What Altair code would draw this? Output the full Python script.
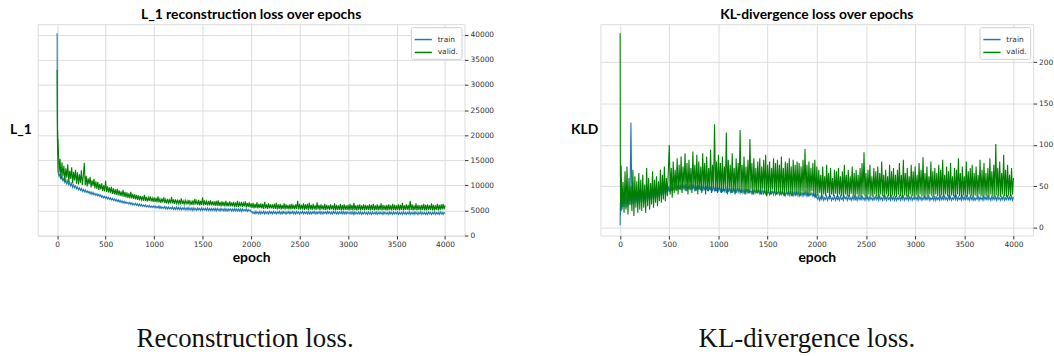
import altair as alt
import pandas as pd

# ---------------- data ----------------
EARLY_EPOCHS = [0, 2, 4, 6, 8]
STEP_EPOCHS = list(range(10, 4001, 10))
EPOCHS = EARLY_EPOCHS + STEP_EPOCHS

SERIES = ["train", "valid."]
COLORS = ["#1f77b4", "#008000"]

L1_TRAIN = [
    40300, 28000, 17500, 14500, 13200,
    12600, 11800, 12300, 11200, 11900, 10800, 11400, 10600, 11100, 10300, 10900, 10100, 10600, 9900, 10400, 9600, 10100, 9500, 9900, 9300,
    9700, 9100, 9500, 9000, 9400, 8800, 9200, 8700, 9100, 8600, 8900, 8500, 8800, 8300, 8700, 8200, 8600, 8100, 8400, 8000,
    8300, 7900, 8200, 7800, 8100, 7600, 7900, 7500, 7800, 7400, 7700, 7300, 7600, 7200, 7500, 7100, 7400, 7000, 7300, 6900,
    7200, 6800, 7100, 6700, 7000, 6600, 6900, 6500, 6800, 6400, 6700, 6400, 6600, 6300, 6600, 6200, 6500, 6100, 6400, 6100,
    6400, 6000, 6300, 5900, 6300, 5900, 6200, 5800, 6100, 5800, 6100, 5700, 6000, 5700, 6000, 5600, 5900, 5600, 5900, 5600,
    5900, 5500, 5800, 5500, 5900, 5400, 5800, 5400, 5700, 5400, 5800, 5300, 5700, 5300, 5700, 5300, 5600, 5300, 5700, 5200,
    5600, 5200, 5700, 5200, 5600, 5200, 5600, 5100, 5500, 5200, 5600, 5100, 5500, 5100, 5600, 5100, 5500, 5100, 5500, 5000,
    5500, 5100, 5400, 5000, 5500, 5100, 5400, 5000, 5500, 5000, 5400, 5100, 5400, 5000, 5500, 5000, 5400, 5000, 5400, 5000,
    5400, 5000, 5400, 4900, 5400, 5000, 5300, 4900, 5400, 5000, 5300, 4900, 5400, 4900, 5300, 4900, 5300, 5000, 5300, 4900,
    5300, 4900, 5400, 4900, 5300, 4900, 5300, 4900, 5300, 4800, 5300, 4900, 5200, 4900, 5300, 4800, 5200, 4900, 5100, 4700,
    4800, 4400, 4700, 4300, 4800, 4400, 4700, 4300, 4800, 4300, 4700, 4400, 4800, 4300, 4700, 4400, 4700, 4300, 4800, 4400,
    4700, 4300, 4800, 4400, 4700, 4300, 4700, 4400, 4800, 4300, 4700, 4300, 4800, 4400, 4700, 4300, 4700, 4400, 4800, 4300,
    4700, 4400, 4800, 4300, 4700, 4300, 4800, 4400, 4700, 4300, 4700, 4400, 4800, 4300, 4700, 4400, 4700, 4300, 4800, 4300,
    4700, 4300, 4700, 4400, 4800, 4300, 4700, 4300, 4700, 4400, 4800, 4300, 4700, 4300, 4700, 4400, 4700, 4300, 4800, 4400,
    4700, 4300, 4700, 4300, 4800, 4400, 4700, 4300, 4700, 4300, 4700, 4400, 4700, 4300, 4800, 4300, 4700, 4300, 4700, 4400,
    4600, 4300, 4700, 4300, 4700, 4200, 4700, 4300, 4600, 4300, 4700, 4300, 4700, 4200, 4600, 4300, 4700, 4300, 4600, 4200,
    4700, 4300, 4600, 4200, 4700, 4300, 4600, 4300, 4700, 4200, 4600, 4300, 4700, 4300, 4600, 4200, 4700, 4300, 4600, 4300,
    4600, 4200, 4700, 4300, 4600, 4200, 4700, 4300, 4600, 4300, 4700, 4200, 4600, 4300, 4600, 4200, 4700, 4300, 4600, 4200,
    4600, 4300, 4700, 4200, 4600, 4300, 4600, 4200, 4700, 4300, 4600, 4200, 4600, 4300, 4700, 4200, 4600, 4300, 4600, 4200,
    4600, 4200, 4700, 4300, 4600, 4200, 4600, 4300, 4700, 4200, 4600, 4300, 4600, 4200, 4700, 4300, 4600, 4200, 4600, 4400,
]

L1_VALID = [
    33000, 23000, 18500, 21000, 16000,
    19200, 12500, 15300, 11200, 14600, 11800, 13900, 10700, 13400, 11500, 14200, 10600, 12900, 11300, 13600, 10400, 12700, 11000, 13100, 10300,
    12600, 10200, 12200, 10500, 13000, 10100, 11800, 14500, 10000, 11900, 9800, 11400, 10200, 11700, 9600, 11000, 9900, 11300, 9400, 10800,
    9300, 10700, 9100, 10300, 9200, 10400, 8900, 10000, 8800, 10900, 8700, 9800, 8600, 9600, 8500, 9700, 8300, 9400, 8200, 9200,
    8100, 9300, 8000, 9000, 7900, 8800, 7800, 9100, 7700, 8700, 7600, 8600, 7500, 8400, 7400, 8700, 7400, 8300, 7300, 8200,
    7200, 8100, 7100, 8000, 7000, 7900, 7100, 7800, 6900, 8100, 6900, 7700, 6800, 7600, 6900, 7800, 6800, 7500, 6700, 7600,
    6700, 7500, 6600, 7800, 6600, 7300, 6500, 7400, 6600, 7600, 6500, 7200, 6400, 7300, 6500, 7100, 6400, 7700, 6400, 7200,
    6300, 7200, 6400, 7000, 6300, 7100, 6200, 7400, 6300, 6900, 6200, 7000, 6300, 6900, 6200, 7100, 6200, 6800, 6100, 7000,
    6100, 7300, 6200, 6900, 6100, 7100, 6000, 6900, 6100, 7600, 6000, 7000, 6100, 6800, 6000, 6900, 6000, 7000, 6000, 6800,
    6000, 6800, 5900, 6900, 5900, 7000, 5900, 6700, 5800, 6800, 5900, 6700, 5800, 6900, 5800, 6600, 5800, 6800, 5800, 6600,
    5800, 6700, 5700, 6600, 5700, 6900, 5700, 6500, 5800, 6700, 5700, 6500, 5800, 6800, 5600, 6500, 5700, 6600, 5600, 6400,
    5500, 6500, 5400, 6300, 5500, 6600, 5400, 6300, 5500, 6400, 5400, 6300, 5300, 6700, 5400, 6200, 5300, 6400, 5400, 6200,
    5400, 6200, 5300, 6300, 5300, 6500, 5200, 6200, 5300, 6300, 5200, 6100, 5300, 6400, 5200, 6200, 5300, 6100, 5200, 6200,
    5200, 6300, 5300, 6100, 5200, 6200, 5300, 6900, 5200, 6300, 5200, 6100, 5200, 6400, 5100, 6200, 5200, 6300, 5100, 6500,
    5200, 6100, 5100, 6300, 5200, 6000, 5100, 6600, 5200, 6100, 5100, 6200, 5200, 6000, 5100, 6300, 5100, 6100, 5200, 6000,
    5100, 6200, 5200, 6000, 5100, 6400, 5000, 6100, 5100, 6000, 5100, 6300, 5000, 6100, 5100, 6200, 5100, 6000, 5100, 6100,
    5000, 6300, 5100, 6100, 5000, 6500, 5100, 6000, 5000, 6100, 5100, 6200, 5000, 6000, 5100, 6200, 5000, 6100, 5100, 6000,
    5100, 6200, 5000, 6100, 5100, 6300, 5000, 6000, 5100, 6200, 5000, 6000, 5100, 6400, 5000, 6100, 5100, 6000, 5000, 6100,
    5000, 6200, 5100, 6000, 5000, 6300, 5100, 6100, 5000, 6000, 5100, 6200, 5000, 6100, 5100, 6500, 5000, 6000, 5100, 6200,
    5100, 6100, 5000, 6900, 5100, 6200, 5000, 6000, 5100, 6400, 5000, 6100, 5100, 6000, 5000, 6100, 5100, 6300, 5000, 6100,
    5000, 6200, 5100, 6000, 5100, 6400, 5000, 6100, 5000, 6000, 5100, 6300, 5000, 6100, 5100, 6200, 5200, 6300, 5200, 6000,
]

KLD_TRAIN = [
    3, 30, 15, 35, 20,
    40, 22, 38, 25, 42, 24, 40, 26, 43, 27, 127, 28, 41, 29, 44, 30, 42, 28, 43, 31,
    44, 30, 45, 32, 46, 31, 44, 33, 46, 34, 47, 33, 45, 35, 48, 34, 46, 36, 47, 37,
    48, 38, 49, 39, 50, 40, 51, 41, 50, 43, 52, 44, 51, 45, 52, 46, 53, 45, 52, 46,
    52, 45, 53, 46, 52, 45, 53, 44, 51, 46, 52, 45, 53, 46, 52, 44, 51, 45, 52, 46,
    51, 45, 52, 44, 50, 45, 51, 46, 52, 44, 50, 45, 51, 44, 50, 45, 49, 44, 50, 45,
    49, 44, 48, 43, 49, 44, 48, 42, 49, 43, 48, 43, 47, 42, 48, 43, 47, 42, 48, 43,
    47, 42, 46, 42, 47, 41, 46, 42, 47, 41, 46, 42, 45, 41, 46, 41, 45, 42, 46, 41,
    46, 41, 45, 40, 46, 41, 45, 40, 46, 41, 44, 40, 45, 41, 44, 40, 45, 40, 44, 41,
    44, 40, 45, 39, 44, 40, 43, 39, 44, 40, 43, 39, 44, 38, 43, 39, 44, 38, 43, 39,
    43, 38, 42, 39, 43, 38, 42, 39, 43, 38, 42, 38, 41, 39, 42, 38, 41, 37, 40, 36,
    34, 38, 33, 37, 34, 39, 33, 36, 34, 38, 33, 37, 35, 38, 33, 36, 34, 38, 33, 37,
    34, 37, 33, 38, 34, 36, 33, 38, 35, 37, 33, 38, 34, 36, 33, 37, 34, 39, 33, 37,
    33, 38, 34, 37, 33, 39, 34, 36, 33, 38, 34, 37, 33, 38, 34, 36, 33, 37, 34, 38,
    34, 37, 33, 38, 34, 36, 33, 39, 34, 37, 33, 38, 34, 36, 33, 38, 34, 37, 33, 38,
    33, 36, 34, 38, 33, 37, 34, 39, 33, 36, 34, 38, 33, 37, 34, 38, 33, 36, 34, 37,
    34, 37, 33, 38, 34, 37, 33, 36, 34, 39, 33, 37, 34, 38, 33, 36, 34, 37, 33, 38,
    33, 37, 34, 36, 33, 38, 34, 37, 33, 39, 34, 36, 33, 38, 34, 37, 33, 36, 34, 38,
    34, 38, 33, 37, 34, 36, 33, 38, 34, 37, 33, 39, 34, 36, 33, 38, 34, 37, 33, 36,
    33, 36, 34, 38, 33, 37, 34, 36, 33, 38, 34, 37, 33, 39, 34, 36, 33, 38, 34, 37,
    34, 37, 33, 38, 34, 36, 33, 37, 34, 38, 33, 36, 34, 39, 33, 37, 34, 38, 33, 37,
]

KLD_VALID = [
    235, 90, 30, 60, 20,
    75, 25, 55, 18, 68, 22, 74, 16, 60, 28, 50, 20, 70, 14, 62, 24, 56, 18, 66, 22,
    58, 20, 64, 24, 52, 18, 72, 26, 60, 22, 54, 28, 68, 24, 58, 30, 62, 26, 56, 32,
    70, 30, 64, 34, 74, 32, 60, 38, 68, 100, 40, 72, 36, 80, 42, 70, 44, 84, 40, 76,
    46, 86, 42, 74, 48, 90, 44, 78, 40, 82, 46, 72, 42, 92, 48, 76, 44, 88, 40, 80,
    46, 74, 42, 90, 48, 78, 40, 86, 44, 72, 46, 94, 42, 76, 48, 125, 44, 80, 42, 88,
    46, 78, 42, 86, 44, 74, 48, 115, 40, 82, 46, 76, 42, 90, 44, 72, 40, 84, 46, 78,
    44, 118, 42, 76, 46, 86, 40, 74, 44, 82, 42, 107, 46, 78, 40, 84, 44, 72, 42, 80,
    44, 84, 40, 74, 46, 82, 42, 88, 38, 76, 44, 80, 40, 72, 46, 84, 42, 78, 40, 82,
    44, 76, 40, 86, 42, 72, 38, 80, 44, 78, 40, 84, 42, 74, 38, 82, 44, 76, 40, 80,
    42, 78, 38, 74, 44, 82, 40, 95, 42, 76, 38, 80, 40, 72, 44, 78, 38, 82, 36, 74,
    38, 70, 42, 64, 36, 74, 40, 62, 38, 76, 42, 66, 37, 72, 40, 60, 38, 70, 41, 68,
    37, 72, 40, 62, 38, 68, 36, 76, 40, 64, 38, 70, 37, 62, 41, 74, 38, 66, 36, 70,
    40, 64, 38, 72, 37, 78, 40, 91, 38, 66, 36, 70, 40, 76, 38, 62, 37, 72, 40, 68,
    38, 74, 36, 66, 40, 80, 38, 64, 37, 70, 40, 62, 38, 76, 36, 68, 39, 72, 38, 64,
    37, 70, 40, 78, 38, 64, 36, 82, 39, 66, 38, 72, 37, 62, 40, 76, 38, 68, 36, 74,
    39, 64, 37, 78, 40, 70, 38, 85, 36, 66, 39, 74, 37, 62, 40, 80, 38, 68, 37, 72,
    40, 66, 38, 76, 36, 70, 39, 82, 37, 64, 40, 74, 38, 68, 36, 78, 39, 62, 38, 72,
    37, 70, 40, 84, 38, 66, 36, 74, 39, 62, 38, 80, 37, 68, 40, 72, 38, 76, 36, 66,
    39, 74, 37, 64, 40, 82, 38, 70, 36, 78, 39, 66, 38, 72, 37, 84, 40, 68, 38, 76,
    37, 101, 39, 72, 38, 80, 37, 66, 40, 88, 38, 70, 37, 76, 39, 64, 38, 72, 40, 60,
]

X_TICKS = [0, 500, 1000, 1500, 2000, 2500, 3000, 3500, 4000]
L1_TICKS = [0, 5000, 10000, 15000, 20000, 25000, 30000, 35000, 40000]
KLD_TICKS = [0, 50, 100, 150, 200]

TITLES = ["L_1 reconstruction loss over epochs", "KL-divergence loss over epochs"]
YLABELS = ["L_1", "KLD"]
CAPTIONS = ["Reconstruction loss.", "KL-divergence loss."]


def make_frame(train, valid):
    rows = []
    for name, vals in zip(SERIES, [train, valid]):
        for e, v in zip(EPOCHS, vals):
            rows.append({"epoch": e, "loss": v, "series": name})
    return pd.DataFrame(rows)


PLOT_H = 213


def panel(df, title, ylab, caption_text, ydom, yticks, w, ylab_x, cap_x):
    lines = alt.Chart(df).mark_line(strokeWidth=1.1, clip=True).encode(
        x=alt.X("epoch:Q",
                scale=alt.Scale(domain=[-200, 4200], nice=False, zero=False),
                axis=alt.Axis(values=X_TICKS, title="epoch", grid=True, format="d",
                              labelFont="DejaVu Sans", labelFontSize=7.5,
                              labelColor="#333333", tickSize=3.5, tickColor="#333333",
                              labelPadding=2, domain=False, titleFont="Lato",
                              titleFontSize=14, titleFontWeight="bold",
                              titleColor="#000000", titlePadding=2)),
        y=alt.Y("loss:Q",
                scale=alt.Scale(domain=ydom, nice=False, zero=False),
                axis=alt.Axis(orient="right", values=yticks, title=None, grid=True,
                              format="d",
                              labelFont="DejaVu Sans", labelFontSize=7.5,
                              labelColor="#333333", tickSize=3.5, tickColor="#333333",
                              labelPadding=2, domain=False)),
        color=alt.Color("series:N",
                        scale=alt.Scale(domain=SERIES, range=COLORS),
                        legend=alt.Legend(title=None, orient="top-right", offset=3,
                                          labelFont="DejaVu Sans", labelFontSize=7.5,
                                          labelColor="#333333", symbolType="stroke",
                                          symbolSize=300, symbolStrokeWidth=1.5,
                                          padding=3, rowPadding=0, labelOffset=5,
                                          fillColor="white", strokeColor="#d0d0d0",
                                          cornerRadius=2)),
    )
    ylabel = alt.Chart(pd.DataFrame({"t": [ylab]})).mark_text(
        font="Lato", fontSize=14, fontWeight="bold", align="center",
        baseline="middle", color="#000000"
    ).encode(text="t:N", x=alt.value(ylab_x), y=alt.value(PLOT_H / 2))
    caption = alt.Chart(pd.DataFrame({"t": [caption_text]})).mark_text(
        font="Liberation Serif", fontSize=27, align="center",
        baseline="alphabetic", color="#111111"
    ).encode(text="t:N", x=alt.value(cap_x), y=alt.value(325))
    return alt.layer(lines, ylabel, caption).properties(
        width=w, height=PLOT_H,
        title=alt.TitleParams(title, font="Lato", fontSize=14, fontWeight="bold",
                              color="#000000", anchor="middle", baseline="bottom",
                              offset=-12),
    )


left = panel(make_frame(L1_TRAIN, L1_VALID), TITLES[0], YLABELS[0], CAPTIONS[0],
             [0, 42100], L1_TICKS, 430, -17, 209)
right = panel(make_frame(KLD_TRAIN, KLD_VALID), TITLES[1], YLABELS[1], CAPTIONS[1],
              [-9.6, 246], KLD_TICKS, 436, -16, 208)

chart = alt.hconcat(left, right, spacing=76).resolve_scale(
    color="independent"
).resolve_legend(
    color="independent"
).properties(
    padding={"left": 9, "top": 6, "right": 0, "bottom": 0}
).configure_view(
    stroke="#777777", strokeWidth=1
).configure_axis(
    gridColor="#bbbbbb", gridWidth=1
).configure(background="white")

chart.save("out.html", embed_options={"renderer": "svg", "actions": False})
